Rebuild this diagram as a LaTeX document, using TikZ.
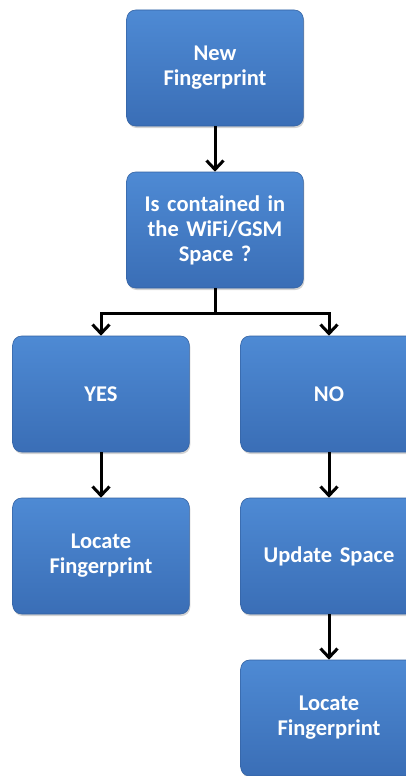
\documentclass[tikz,border=0pt]{standalone}
\usepackage{fontspec}
\setmainfont{Carlito}
\usetikzlibrary{arrows.meta}
\usetikzlibrary{shadows}

\definecolor{boxtop}{RGB}{78,138,212}
\definecolor{boxbot}{RGB}{58,110,182}
\definecolor{boxedge}{RGB}{52,98,162}

\begin{document}
\begin{tikzpicture}[x=1pt,y=-1pt,->,>={Straight Barb[length=9pt,width=17pt]},line width=3pt,
                    step node/.style={rectangle,rounded corners=9pt,
                      minimum width=174pt,minimum height=116pt,
                      top color=boxtop,bottom color=boxbot,draw=boxedge,line width=0.6pt,
                      drop shadow={shadow xshift=1pt,shadow yshift=-2pt,opacity=0.35},
                      text=white,font=\bfseries\fontsize{22.5}{25}\selectfont,
                      align=center,text width=170pt}]

  \useasboundingbox (0,0) rectangle (406,776);

  \node[step node] (new) at (215,68) {New\\Fingerprint};
  \node[step node] (test) at (215,230) {Is contained in\\the WiFi/GSM\\Space ?};
  \node[step node] (yes) at (101,394) {YES};
  \node[step node] (no) at (329,394) {NO};
  \node[step node] (locyes) at (101,556) {Locate\\Fingerprint};
  \node[step node] (update) at (329,556) {Update Space};
  \node[step node] (locno) at (329,718) {Locate\\Fingerprint};

  \coordinate (split) at (215,313);

  \draw (new) -- (test);
  \draw[-] (test) -- (split);
  \draw (split) -| (yes);
  \draw (split) -| (no);
  \draw (yes) -- (locyes);
  \draw (no) -- (update);
  \draw (update) -- (locno);
\end{tikzpicture}
\end{document}
